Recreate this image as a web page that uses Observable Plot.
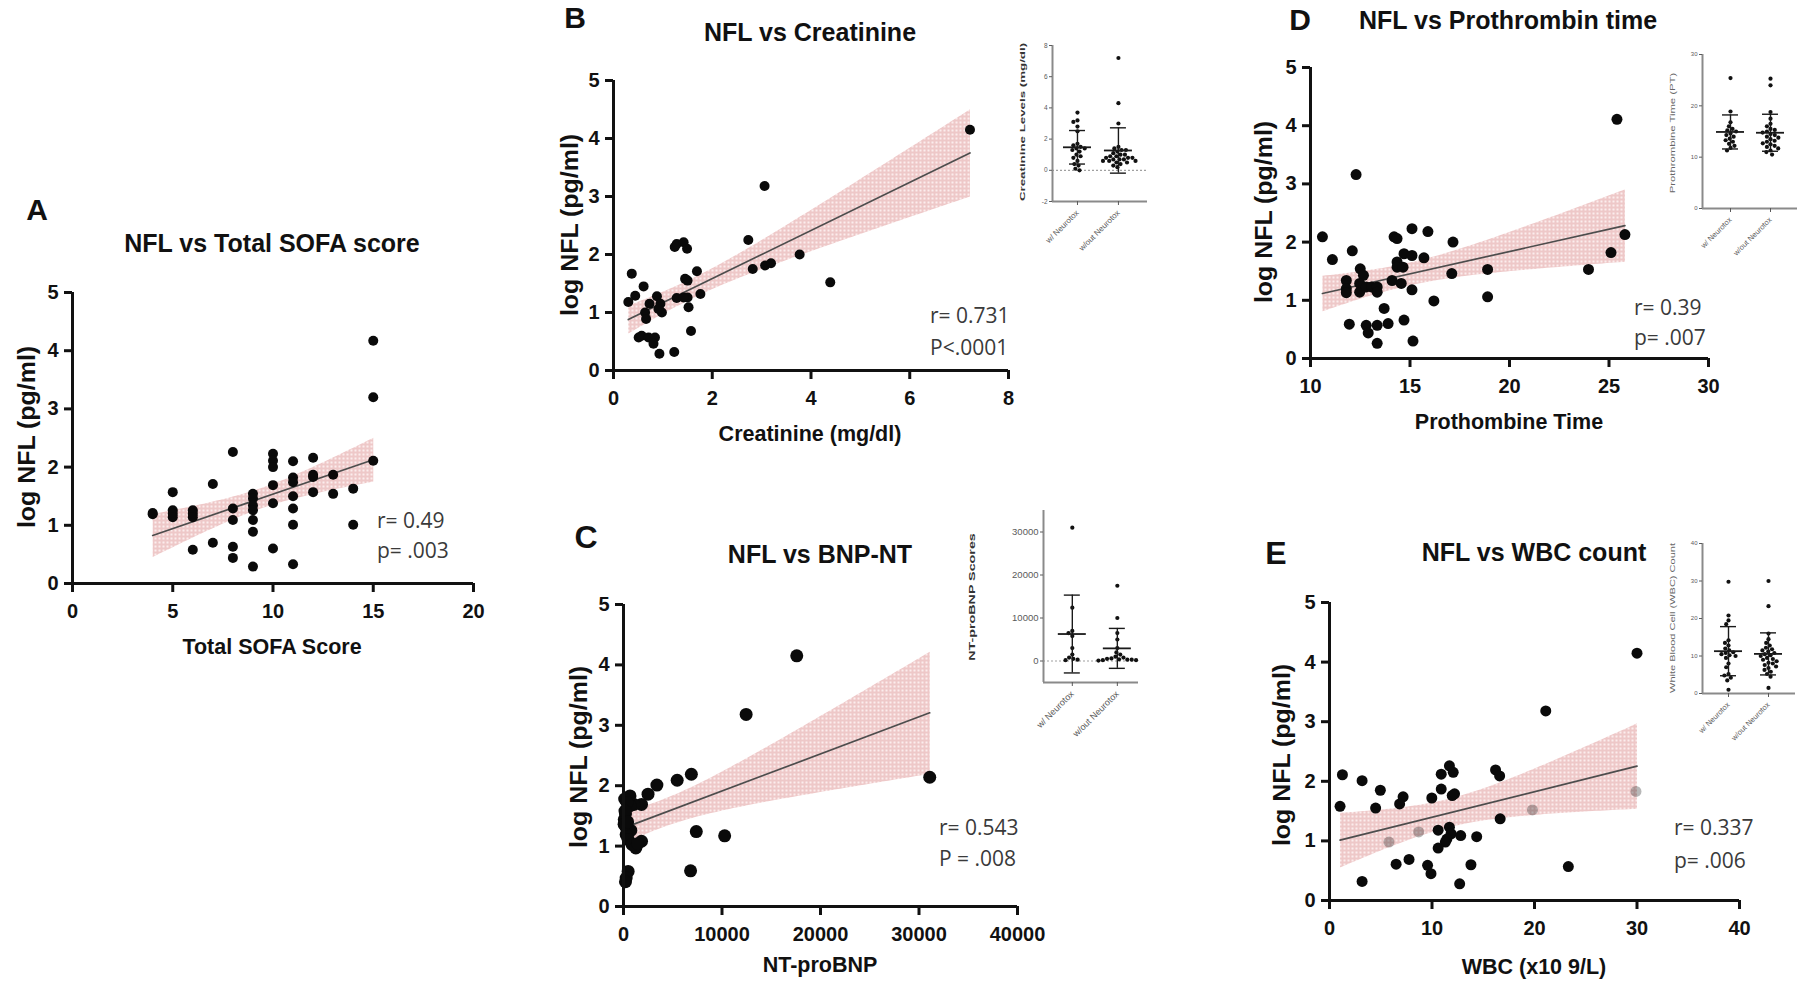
<!DOCTYPE html>
<html>
<head>
<meta charset="utf-8">
<script src="https://cdn.jsdelivr.net/npm/d3@7"></script>
<script src="https://cdn.jsdelivr.net/npm/@observablehq/plot@0.6"></script>
<style>
html, body { margin: 0; padding: 0; background: #fff; }
#fig { position: relative; width: 1800px; height: 988px; overflow: hidden; background: #fff; }
.t { position: absolute; white-space: nowrap; line-height: 1; }
</style>
</head>
<body>
<svg width="0" height="0" style="position:absolute;left:0;top:0">
  <defs>
    <pattern id="pinkdots" width="4" height="4" patternUnits="userSpaceOnUse">
      <rect width="4" height="4" fill="#eec8c8"></rect>
      <rect x="0" y="0" width="2" height="2" fill="#fbeded"></rect>
    </pattern>
  </defs>
</svg>
<div id="fig"></div>
<script>
// ---------------- DATA ----------------
// Panel A: NFL vs Total SOFA score
const sofaScore = [4,4,5,5,5,5,6,6,6,6,7,7,8,8,8,8,8,9,9,9,9,9,9,9,10,10,10,10,10,10,11,11,11,11,11,11,11,12,12,12,12,13,13,14,14,15,15,15];
const sofaNFL = [1.21,1.19,1.57,1.26,1.20,1.14,1.26,1.20,1.14,0.58,1.71,0.70,2.26,1.29,1.09,0.63,0.44,1.54,1.46,1.34,1.26,1.09,0.89,0.29,2.23,2.11,2.00,1.69,1.38,0.60,2.10,1.82,1.74,1.50,1.29,1.01,0.33,2.16,1.87,1.83,1.57,1.87,1.54,1.63,1.01,4.17,3.20,2.11];

// Panel B: NFL vs Creatinine
const creatinine = [7.22,3.06,2.73,3.77,4.39,2.82,3.07,3.19,1.69,1.76,1.57,1.24,1.28,1.42,1.49,1.50,1.45,1.50,1.52,1.28,1.42,0.37,0.44,0.30,0.61,0.64,0.66,0.73,0.88,0.95,0.98,0.91,0.51,0.57,0.71,0.84,0.81,0.93,1.23];
const creatNFL = [4.15,3.18,2.25,2.00,1.52,1.75,1.81,1.85,1.71,1.32,0.68,2.13,2.18,2.21,2.10,1.55,1.58,1.26,1.09,1.25,1.26,1.67,1.29,1.18,1.45,1.00,0.89,1.15,1.28,1.15,1.00,1.06,0.57,0.60,0.57,0.57,0.46,0.29,0.32];

// Panel C: NFL vs BNP-NT
const ntProBNP = [17590,12450,31090,6890,5450,3390,2490,1830,1050,660,660,200,80,270,740,270,470,860,1250,1830,1440,7390,10270,6810,470,270,200,120,350,150,60,420];
const bnpNFL = [4.15,3.18,2.14,2.19,2.09,2.01,1.86,1.69,1.69,1.83,1.67,1.53,1.44,1.31,1.26,1.19,1.11,1.03,0.97,1.08,1.04,1.24,1.17,0.59,0.58,0.47,0.41,1.78,1.72,1.58,1.36,1.40];

// Panel D: NFL vs Prothrombin time
const prothrombin = [25.4,12.29,10.6,11.1,12.1,11.8,11.8,11.8,11.95,12.5,12.66,12.47,12.47,12.8,13.07,13.35,13.35,12.8,12.9,13.35,13.35,13.9,13.7,14.1,14.2,14.35,14.35,14.35,14.65,14.56,14.7,14.7,15.1,15.1,15.1,15.15,15.7,15.9,16.2,17.16,17.1,18.9,18.9,23.97,25.1,25.8];
const ptNFL = [4.11,3.16,2.09,1.70,1.85,1.34,1.20,1.13,0.59,1.54,1.43,1.29,1.14,1.23,1.23,1.23,1.14,0.57,0.44,0.57,0.26,0.60,0.86,1.34,2.09,2.06,1.66,1.57,1.57,1.29,1.80,0.66,1.77,1.18,2.23,0.30,1.73,2.18,0.99,2.00,1.46,1.53,1.06,1.53,1.82,2.13];

// Panel E: NFL vs WBC count
const wbc = [30.0,21.1,23.3,1.26,1.03,3.18,4.96,4.5,3.18,7.18,6.84,6.5,7.76,9.98,10.9,10.9,11.7,12.07,11.97,12.2,10.6,11.7,11.86,11.45,11.3,10.6,12.8,14.36,9.57,9.9,13.8,12.7,16.2,16.6,16.65];
const wbcNFL = [4.15,3.18,0.57,2.11,1.58,2.01,1.85,1.55,0.32,1.74,1.62,0.61,0.69,1.72,1.87,2.12,2.26,2.15,1.76,1.79,1.18,1.23,1.12,1.03,0.98,0.88,1.09,1.07,0.59,0.45,0.60,0.28,2.19,2.09,1.37];
// points that sit under the confidence band (drawn faded)
const wbcUnderBand = [29.9,19.8,5.8,8.7];
const wbcUnderBandNFL = [1.83,1.52,0.98,1.15];

// Insets: group values (with / without)
const groupLabels = ["w/ Neurotox", "w/out Neurotox"];
const creatWith = [3.7,3.2,3.1,2.8,2.5,1.7,1.6,1.5,1.4,1.4,1.3,1.2,1.0,0.9,0.8,0.6,0.4,0.3,0.1,0.0];
const creatWithout = [7.2,4.3,3.0,1.5,1.4,1.3,1.3,1.2,1.1,1.0,1.0,0.9,0.9,0.8,0.8,0.8,0.7,0.7,0.7,0.6,0.6,0.6,0.5,0.5,0.4,0.3,0.2];
const bnpWith = [31000,12400,7000,6500,5800,3000,1500,800,500,300,200];
const bnpWithout = [17500,10000,6500,5000,3000,2000,1500,1000,800,600,500,400,300,300,200,200,100];
const ptWith = [25.4,18.9,16.8,16.0,15.5,15.2,15.0,14.6,14.3,14.0,13.6,13.3,13.0,12.6,12.2,11.8,11.3];
const ptWithout = [25.3,24.0,18.8,17.5,16.5,16.0,15.5,15.3,15.0,14.8,14.5,14.3,14.0,13.8,13.5,13.2,13.0,12.7,12.5,12.2,12.0,11.7,11.3,11.0,10.5];
const wbcWith = [29.8,20.8,19.5,18.5,14.2,13.5,12.8,12.0,11.5,11.0,10.8,10.5,10.2,10.0,9.5,8.0,7.0,5.2,4.8,4.2,3.5,1.0];
const wbcWithout = [30.0,23.3,16.0,14.5,13.5,12.8,12.2,11.8,11.5,11.2,10.8,10.5,10.2,10.0,9.5,9.2,9.0,8.6,8.2,8.0,7.6,7.2,6.8,6.3,5.8,5.2,4.5,1.5];

// Tick labels
const nflTicks = [0,1,2,3,4,5];
const sofaTicks = [0,5,10,15,20];
const creatTicks = [0,2,4,6,8];
const bnpTicks = [0,10000,20000,30000,40000];
const ptTicks = [10,15,20,25,30];
const wbcTicks = [0,10,20,30,40];
const creatInsetTicks = [-2,0,2,4,6,8];
const bnpInsetTicks = [0,10000,20000,30000];
const ptInsetTicks = [0,10,20,30];
const wbcInsetTicks = [0,10,20,30,40];

// Stats text
const statR = ["r= 0.49", "r= 0.731", "r= 0.543", "r= 0.39", "r= 0.337"];
const statP = ["p= .003", "P<.0001", "P = .008", "p= .007", "p= .006"];

// ---------------- RENDER ----------------
const fig = document.getElementById("fig");
const FONT = "'Liberation Sans', Arial, Helvetica, sans-serif";
const STAT_FONT = "'Open Sans', 'Liberation Sans', sans-serif";

function txt(s, x, y, o = {}) {
  const d = document.createElement("div");
  d.className = "t";
  d.textContent = s;
  Object.assign(d.style, {
    left: x + "px", top: y + "px",
    fontFamily: o.family || FONT,
    fontSize: (o.size || 20) + "px",
    fontWeight: o.weight || "bold",
    color: o.color || "#111"
  });
  fig.appendChild(d);
  const k = o.len ? o.len / d.offsetWidth : 1;
  const tx = o.anchor === "start" ? "0" : "-50%";
  d.style.transform = `translate(${tx},-50%)` + (o.rotate ? ` rotate(${o.rotate}deg)` : "") + (k !== 1 ? ` scaleX(${k})` : "");
}

function mainPanel(p) {
  const [x0, y0, x1, y1] = p.frame;
  const mL = 70, mR = 20, mT = 15, mB = 55;
  const pts = p.x.map((x, i) => ({x, y: p.y[i]}));
  const under = (p.ux || []).map((x, i) => ({x, y: p.uy[i]}));
  const svg = Plot.plot({
    width: x1 - x0 + mL + mR,
    height: y1 - y0 + mT + mB,
    marginLeft: mL, marginRight: mR, marginTop: mT, marginBottom: mB,
    x: {domain: p.xDomain},
    y: {domain: [nflTicks[0], nflTicks[nflTicks.length - 1]]},
    style: {fontFamily: FONT, fontSize: "20px", fontWeight: "bold", color: "#111", background: "none", overflow: "visible"},
    marks: [
      Plot.linearRegressionY(pts.concat(under), {x: "x", y: "y", ci: 0.95, fill: "url(#pinkdots)", fillOpacity: 1, stroke: "#4d4d4d", strokeWidth: 1.7}),
      Plot.dot(under, {x: "x", y: "y", r: p.r, fill: "#000", fillOpacity: 0.28}),
      Plot.dot(pts, {x: "x", y: "y", r: p.r, fill: "#0a0a0a"}),
      Plot.ruleY([nflTicks[0]], {stroke: "#111", strokeWidth: 3}),
      Plot.ruleX([p.xDomain[0]], {stroke: "#111", strokeWidth: 3}),
      Plot.axisX({ticks: p.xTicks, tickFormat: d => `${d}`, tickSize: 9, tickPadding: 11, strokeWidth: 3, label: null,
                  fontWeight: "bold", fontSize: 20, fill: "#111"}),
      Plot.axisY({ticks: nflTicks, tickFormat: d => `${d}`, tickSize: 8, tickPadding: 6, strokeWidth: 3, label: null,
                  fontWeight: "bold", fontSize: 20, fill: "#111"})
    ]
  });
  svg.querySelectorAll("text").forEach(t => {
    t.style.fontWeight = "700";
    t.style.fontFamily = FONT;
    t.style.fill = "#111";
  });
  Object.assign(svg.style, {position: "absolute", left: (x0 - mL) + "px", top: (y0 - mT) + "px"});
  fig.appendChild(svg);
}

function insetPanel(p) {
  const [x0, y0, x1, y1] = p.frame;
  const mL = 40, mR = 4, mT = 4, mB = 70;
  const ppu = (x1 - x0) / (p.xDomain[1] - p.xDomain[0]);
  const mid = (p.xDomain[0] + p.xDomain[1]) / 2;
  const groups = [p.a, p.b];
  const summary = groups.map((v, i) => {
    const m = d3.mean(v), s = d3.deviation(v);
    return {g: i + 1, mean: m, lo: m - s, hi: m + s};
  });
  const halfMean = 14 / ppu, halfCap = 8 / ppu;
  const marks = [];
  if (p.zeroLine) marks.push(Plot.ruleY([0], {stroke: "#a0a0a0", strokeWidth: 1.2, strokeDasharray: "2,2"}));
  marks.push(
    Plot.ruleY([p.yDomain[0]], {stroke: "#8a8a8a", strokeWidth: 2}),
    Plot.ruleX([p.xDomain[0]], {stroke: "#8a8a8a", strokeWidth: 2}),
    ...groups.map((v, i) => Plot.dot(v, Plot.dodgeX({anchor: "middle", padding: 0.2}, {y: d => d, r: 2.1, fill: "#111", dx: (i + 1 - mid) * ppu}))),
    Plot.ruleX(summary, {x: "g", y1: "lo", y2: "hi", stroke: "#1a1a1a", strokeWidth: 1.4}),
    Plot.ruleY(summary, {y: "mean", x1: d => d.g - halfMean, x2: d => d.g + halfMean, stroke: "#1a1a1a", strokeWidth: 1.8}),
    Plot.ruleY(summary, {y: "hi", x1: d => d.g - halfCap, x2: d => d.g + halfCap, stroke: "#1a1a1a", strokeWidth: 1.4}),
    Plot.ruleY(summary, {y: "lo", x1: d => d.g - halfCap, x2: d => d.g + halfCap, stroke: "#1a1a1a", strokeWidth: 1.4}),
    Plot.axisY({ticks: p.yTicks, tickFormat: d => `${d}`, tickSize: 3, tickPadding: 2, strokeWidth: 1, label: null, fontSize: p.tickFont}),
    Plot.axisX({ticks: [1, 2], tickFormat: i => groupLabels[i - 1], tickRotate: -45, tickSize: 4, tickPadding: 6, strokeWidth: 1, label: null, fontSize: p.catFont})
  );
  const svg = Plot.plot({
    width: x1 - x0 + mL + mR,
    height: y1 - y0 + mT + mB,
    marginLeft: mL, marginRight: mR, marginTop: mT, marginBottom: mB,
    x: {domain: p.xDomain},
    y: {domain: p.yDomain},
    style: {fontFamily: FONT, fontSize: "7px", color: "#5a5a5a", background: "none", overflow: "visible"},
    marks
  });
  Object.assign(svg.style, {position: "absolute", left: (x0 - mL) + "px", top: (y0 - mT) + "px"});
  fig.appendChild(svg);
  txt(p.label, p.labelPos[0], p.labelPos[1], {size: p.labelFont, weight: p.labelWeight, color: p.labelColor, rotate: -90, len: p.labelLen});
}

// ----- main panels -----
const panels = [
  {letter: "A", letterPos: [37, 210], letterSize: 30, title: "NFL vs Total SOFA score", titlePos: [272, 243],
   xLabel: "Total SOFA Score", xLabelPos: [272, 648], yLabelPos: [27, 437], statPos: [377, 520, 550],
   frame: [72, 292, 473, 583], xDomain: [0, 20], xTicks: sofaTicks, x: sofaScore, y: sofaNFL, r: 5},
  {letter: "B", letterPos: [575, 18], letterSize: 30, title: "NFL vs Creatinine", titlePos: [810, 32],
   xLabel: "Creatinine (mg/dl)", xLabelPos: [810, 435], yLabelPos: [570, 225], statPos: [930, 315, 347],
   frame: [613, 80, 1008, 370], xDomain: [0, 8], xTicks: creatTicks, x: creatinine, y: creatNFL, r: 5},
  {letter: "C", letterPos: [586, 537], letterSize: 32, title: "NFL vs BNP-NT", titlePos: [820, 554],
   xLabel: "NT-proBNP", xLabelPos: [820, 966], yLabelPos: [579, 757], statPos: [939, 827, 858],
   frame: [623, 604, 1017, 906], xDomain: [0, 40000], xTicks: bnpTicks, x: ntProBNP, y: bnpNFL, r: 6.5},
  {letter: "D", letterPos: [1300, 20], letterSize: 30, title: "NFL vs Prothrombin time", titlePos: [1508, 20],
   xLabel: "Prothombine Time", xLabelPos: [1509, 423], yLabelPos: [1264, 212], statPos: [1634, 307, 337],
   frame: [1310, 67, 1708, 358], xDomain: [10, 30], xTicks: ptTicks, x: prothrombin, y: ptNFL, r: 5.5},
  {letter: "E", letterPos: [1276, 553], letterSize: 32, title: "NFL vs WBC count", titlePos: [1534, 552],
   xLabel: "WBC (x10 9/L)", xLabelPos: [1534, 968], yLabelPos: [1282, 755], statPos: [1674, 827, 860],
   frame: [1329, 602, 1739, 900], xDomain: [0, 40], xTicks: wbcTicks, x: wbc, y: wbcNFL, ux: wbcUnderBand, uy: wbcUnderBandNFL, r: 5.5}
];

panels.forEach((p, i) => {
  mainPanel(p);
  txt(p.letter, p.letterPos[0], p.letterPos[1], {size: p.letterSize});
  txt(p.title, p.titlePos[0], p.titlePos[1], {size: 25});
  txt(p.xLabel, p.xLabelPos[0], p.xLabelPos[1], {size: 21.5});
  txt("log NFL (pg/ml)", p.yLabelPos[0], p.yLabelPos[1], {size: 23, rotate: -90, len: 182});
  txt(statR[i], p.statPos[0], p.statPos[1], {size: 21, family: STAT_FONT, weight: "normal", color: "#3a3a3a", anchor: "start"});
  txt(statP[i], p.statPos[0], p.statPos[2], {size: 21, family: STAT_FONT, weight: "normal", color: "#3a3a3a", anchor: "start"});
});

// ----- insets -----
insetPanel({frame: [1052, 45, 1147, 201], xDomain: [0.39, 2.71], yDomain: [-2, 8], yTicks: creatInsetTicks,
  a: creatWith, b: creatWithout, zeroLine: true, label: "Creatinine Levels (mg/dl)", labelPos: [1023, 122], labelLen: 158,
  labelFont: 8, labelWeight: "bold", labelColor: "#333", tickFont: 6.5, catFont: 8});
insetPanel({frame: [1043, 510, 1138, 682], xDomain: [0.36, 2.47], yDomain: [-5000, 35000], yTicks: bnpInsetTicks,
  a: bnpWith, b: bnpWithout, zeroLine: true, label: "NT-proBNP Scores", labelPos: [972, 597], labelLen: 127,
  labelFont: 9, labelWeight: "bold", labelColor: "#333", tickFont: 9.5, catFont: 9});
insetPanel({frame: [1702, 54, 1797, 208], xDomain: [0.3, 2.675], yDomain: [0, 30], yTicks: ptInsetTicks,
  a: ptWith, b: ptWithout, zeroLine: false, label: "Prothrombine Time (PT)", labelPos: [1673, 133], labelLen: 120,
  labelFont: 8, labelWeight: "normal", labelColor: "#666", tickFont: 6, catFont: 7.5});
insetPanel({frame: [1702, 543, 1795, 693], xDomain: [0.35, 2.675], yDomain: [0, 40], yTicks: wbcInsetTicks,
  a: wbcWith, b: wbcWithout, zeroLine: false, label: "White Blood Cell (WBC) Count", labelPos: [1673, 618], labelLen: 150,
  labelFont: 8, labelWeight: "normal", labelColor: "#666", tickFont: 6, catFont: 7.5});
</script>
</body>
</html>
